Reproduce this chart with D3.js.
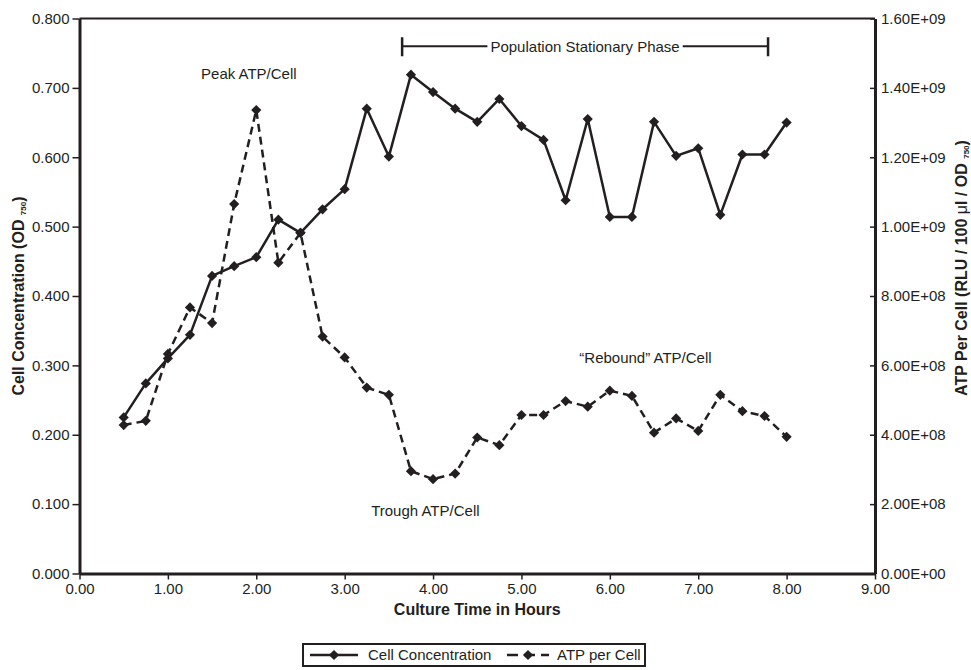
<!DOCTYPE html>
<html>
<head>
<meta charset="utf-8">
<script src="https://cdn.jsdelivr.net/npm/d3@7"></script>
<style>
  html, body { margin: 0; padding: 0; background: #fff; }
  svg { display: block; }
  text { font-family: "Liberation Sans", Arial, Helvetica, sans-serif; fill: #231f20; }
</style>
</head>
<body>
<svg id="chart" width="971" height="670"></svg>
<script>
// Culture time (hours) at each sample
const hours = [0.5, 0.75, 1.0, 1.25, 1.5, 1.75, 2.0, 2.25, 2.5, 2.75, 3.0, 3.25, 3.5, 3.75, 4.0, 4.25,
               4.5, 4.75, 5.0, 5.25, 5.5, 5.75, 6.0, 6.25, 6.5, 6.75, 7.0, 7.25, 7.5, 7.75, 8.0];

// Cell concentration (OD 750), left axis
const cellOD = [0.225, 0.274, 0.310, 0.344, 0.429, 0.443, 0.456, 0.510, 0.491, 0.525, 0.554, 0.670,
                0.601, 0.719, 0.694, 0.670, 0.651, 0.684, 0.645, 0.625, 0.538, 0.655, 0.514, 0.514,
                0.651, 0.602, 0.613, 0.517, 0.604, 0.604, 0.650];

// ATP per cell (RLU / 100 µl / OD 750), right axis
const atpPerCell = [4.28e8, 4.40e8, 6.33e8, 7.67e8, 7.22e8, 1.065e9, 1.336e9, 8.96e8, 9.82e8, 6.83e8,
                    6.23e8, 5.36e8, 5.15e8, 2.95e8, 2.72e8, 2.88e8, 3.92e8, 3.70e8, 4.57e8, 4.57e8,
                    4.97e8, 4.81e8, 5.27e8, 5.12e8, 4.06e8, 4.47e8, 4.11e8, 5.15e8, 4.68e8, 4.54e8,
                    3.94e8];

// Tick values
const xTicks = [0, 1, 2, 3, 4, 5, 6, 7, 8, 9];
const leftTicks = [0, 0.1, 0.2, 0.3, 0.4, 0.5, 0.6, 0.7, 0.8];
const rightTicks = [0, 2e8, 4e8, 6e8, 8e8, 1e9, 1.2e9, 1.4e9, 1.6e9];

// Text annotations (hours, OD units)
const notes = [
  { text: "Peak ATP/Cell", hour: 1.375, od: 0.720 },
  { text: "Trough ATP/Cell", hour: 3.30, od: 0.090 },
  { text: "\u201CRebound\u201D ATP/Cell", hour: 5.655, od: 0.311 }
];
const phase = { label: "Population Stationary Phase", start: 3.65, end: 7.79, od: 0.760 };

const ink = "#231f20";
const svg = d3.select("#chart");

const x = d3.scaleLinear().domain([0, 9]).range([79.5, 875]);
const yL = d3.scaleLinear().domain([0, 0.8]).range([573.5, 18.5]);
const yR = d3.scaleLinear().domain([0, 1.6e9]).range([573.5, 18.5]);

// Scientific labels in the 1.60E+09 style
function sci(v) {
  if (v === 0) return "0.00E+00";
  const e = Math.floor(Math.log10(v));
  const m = v / Math.pow(10, e);
  return m.toFixed(2) + "E" + (e < 0 ? "-" : "+") + String(Math.abs(e)).padStart(2, "0");
}

function styleAxis(g, w) {
  g.select(".domain").attr("stroke", ink).attr("stroke-width", w);
  g.selectAll(".tick line").attr("stroke", ink).attr("stroke-width", 1.5);
  g.selectAll(".tick text").attr("font-size", 15).attr("fill", ink)
    .style("font-family", '"Liberation Sans", Arial, Helvetica, sans-serif');
}

// Top frame line
svg.append("line")
  .attr("x1", x(0)).attr("x2", x(9))
  .attr("y1", yL(0.8)).attr("y2", yL(0.8))
  .attr("stroke", ink).attr("stroke-width", 2);

// Left axis
const gL = svg.append("g").attr("transform", `translate(${x(0)},0)`)
  .call(d3.axisLeft(yL).tickValues(leftTicks).tickFormat(d3.format(".3f")).tickSize(7).tickSizeOuter(0).tickPadding(3));
styleAxis(gL, 3);

// Right axis (ticks on the inner side, labels outside)
const gR = svg.append("g").attr("transform", `translate(${x(9)},0)`)
  .call(d3.axisRight(yR).tickValues(rightTicks).tickFormat(sci).tickSize(0).tickSizeOuter(0).tickPadding(6));
gR.selectAll(".tick line").attr("x1", -5).attr("x2", 0);
styleAxis(gR, 3);

// Bottom axis
const gB = svg.append("g").attr("transform", `translate(0,${yL(0)})`)
  .call(d3.axisBottom(x).tickValues(xTicks).tickFormat(d3.format(".2f")).tickSize(6).tickSizeOuter(0).tickPadding(4));
styleAxis(gB, 3);

// Axis titles
svg.append("text")
  .attr("x", x(4.5)).attr("y", 615)
  .attr("text-anchor", "middle").attr("font-size", 16).attr("font-weight", "bold")
  .text("Culture Time in Hours");

const tl = svg.append("text")
  .attr("transform", `translate(24,${(yL(0) + yL(0.8)) / 2}) rotate(-90)`)
  .attr("text-anchor", "middle").attr("font-size", 16).attr("font-weight", "bold");
tl.append("tspan").text("Cell Concentration (OD ");
tl.append("tspan").attr("font-size", 8).attr("dy", 2).text("750");
tl.append("tspan").attr("dy", -2).text(")");

const tr = svg.append("text")
  .attr("transform", `translate(967,268) rotate(-90)`)
  .attr("text-anchor", "middle").attr("font-size", 16).attr("font-weight", "bold");
tr.append("tspan").text("ATP Per Cell (RLU / 100 ");
tr.append("tspan").attr("font-weight", "normal").text("\u03BC");
tr.append("tspan").text("l / OD ");
tr.append("tspan").attr("font-size", 8).attr("dy", 2).text("750");
tr.append("tspan").attr("dy", -2).text(")");

// Series
const cellData = hours.map((h, i) => ({ h, v: cellOD[i] }));
const atpData = hours.map((h, i) => ({ h, v: atpPerCell[i] }));
const diamond = d3.symbol().type(d3.symbolSquare).size(52);

svg.append("path").datum(atpData)
  .attr("fill", "none").attr("stroke", ink).attr("stroke-width", 2.5)
  .attr("stroke-dasharray", "8,5").attr("stroke-linejoin", "round")
  .attr("d", d3.line().x(d => x(d.h)).y(d => yR(d.v)));

svg.append("path").datum(cellData)
  .attr("fill", "none").attr("stroke", ink).attr("stroke-width", 2.5)
  .attr("stroke-linejoin", "round")
  .attr("d", d3.line().x(d => x(d.h)).y(d => yL(d.v)));

svg.append("g").selectAll("path").data(atpData).join("path")
  .attr("transform", d => `translate(${x(d.h)},${yR(d.v)}) rotate(45)`)
  .attr("d", diamond).attr("fill", ink);

svg.append("g").selectAll("path").data(cellData).join("path")
  .attr("transform", d => `translate(${x(d.h)},${yL(d.v)}) rotate(45)`)
  .attr("d", diamond).attr("fill", ink);

// Annotations
svg.append("g").selectAll("text").data(notes).join("text")
  .attr("x", d => x(d.hour)).attr("y", d => yL(d.od))
  .attr("dy", "0.35em").attr("font-size", 15)
  .text(d => d.text);

// Stationary phase bracket
const bx0 = x(phase.start), bx1 = x(phase.end), by = yL(phase.od);
const bracket = svg.append("g");
const lbl = bracket.append("text")
  .attr("x", (bx0 + bx1) / 2).attr("y", by).attr("dy", "0.35em")
  .attr("text-anchor", "middle").attr("font-size", 15)
  .text(phase.label);
const lw = lbl.node().getComputedTextLength();
const mid = (bx0 + bx1) / 2;
bracket.append("line").attr("x1", bx0).attr("x2", mid - lw / 2 - 3).attr("y1", by).attr("y2", by)
  .attr("stroke", ink).attr("stroke-width", 2);
bracket.append("line").attr("x1", mid + lw / 2 + 3).attr("x2", bx1).attr("y1", by).attr("y2", by)
  .attr("stroke", ink).attr("stroke-width", 2);
[bx0, bx1].forEach(bx => bracket.append("line")
  .attr("x1", bx).attr("x2", bx).attr("y1", by - 9).attr("y2", by + 10)
  .attr("stroke", ink).attr("stroke-width", 2.5));

// Legend
const lg = svg.append("g");
lg.append("rect").attr("x", 303).attr("y", 644).attr("width", 342).attr("height", 22)
  .attr("fill", "#fff").attr("stroke", ink).attr("stroke-width", 2);
const ly = 655;
lg.append("line").attr("x1", 310).attr("x2", 358).attr("y1", ly).attr("y2", ly)
  .attr("stroke", ink).attr("stroke-width", 2.5);
lg.append("path").attr("transform", `translate(334,${ly}) rotate(45)`).attr("d", diamond).attr("fill", ink);
lg.append("text").attr("x", 368).attr("y", ly).attr("dy", "0.35em").attr("font-size", 15).text("Cell Concentration");
lg.append("line").attr("x1", 507).attr("x2", 549).attr("y1", ly).attr("y2", ly)
  .attr("stroke", ink).attr("stroke-width", 2.5).attr("stroke-dasharray", "11,6");
lg.append("path").attr("transform", `translate(528,${ly}) rotate(45)`).attr("d", diamond).attr("fill", ink);
lg.append("text").attr("x", 557).attr("y", ly).attr("dy", "0.35em").attr("font-size", 15).text("ATP per Cell");
</script>
</body>
</html>
